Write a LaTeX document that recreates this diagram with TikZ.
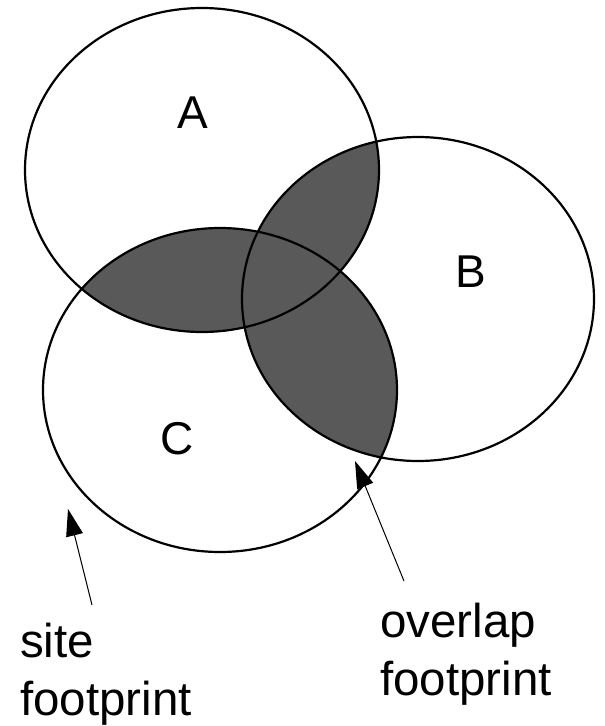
\documentclass[tikz,border=0pt]{standalone}
\usepackage{fontspec}
\setmainfont{Liberation Sans}
\usetikzlibrary{arrows.meta}
\definecolor{overlapgray}{RGB}{89,89,89}
\begin{document}
\begin{tikzpicture}[x=1pt,y=-1pt,
  outline/.style={draw=black,line width=2.2pt},
  lbl/.style={font=\fontsize{46}{52}\selectfont,inner sep=0pt},
  caption/.style={font=\fontsize{47.5}{58}\selectfont,inner sep=0pt,align=left,anchor=base west},
  pointer/.style={line width=1pt,-{Triangle[length=27pt,width=17pt]}}]
\useasboundingbox (0,0) rectangle (605,726);
\def\ea{(202,170) ellipse [x radius=177,y radius=162]}
\def\eb{(418,299) ellipse [x radius=176,y radius=162]}
\def\ec{(220,390) ellipse [x radius=177,y radius=162]}
% shaded overlaps
\begin{scope}\clip \ea; \fill[overlapgray] \eb; \fill[overlapgray] \ec;\end{scope}
\begin{scope}\clip \eb; \fill[overlapgray] \ec;\end{scope}
% outlines
\draw[outline] \ea;
\draw[outline] \eb;
\draw[outline] \ec;
% labels
\node[lbl] (la) at (193,113) {A};
\node[lbl] (lb) at (471,272) {B};
\node[lbl] (lc) at (177,439) {C};
% captions (anchored at the baseline of the last line)
\node[caption] (site) at (20,715) {site\\footprint};
\node[caption] (overlap) at (380,695) {overlap\\footprint};
\coordinate (sitetail) at (92,605);
\coordinate (sitetip) at (68,509);
\coordinate (ovtail) at (404,581);
\coordinate (ovtip) at (355,461);
\draw[pointer] (sitetail) -- (sitetip);
\draw[pointer] (ovtail) -- (ovtip);
\end{tikzpicture}
\end{document}
